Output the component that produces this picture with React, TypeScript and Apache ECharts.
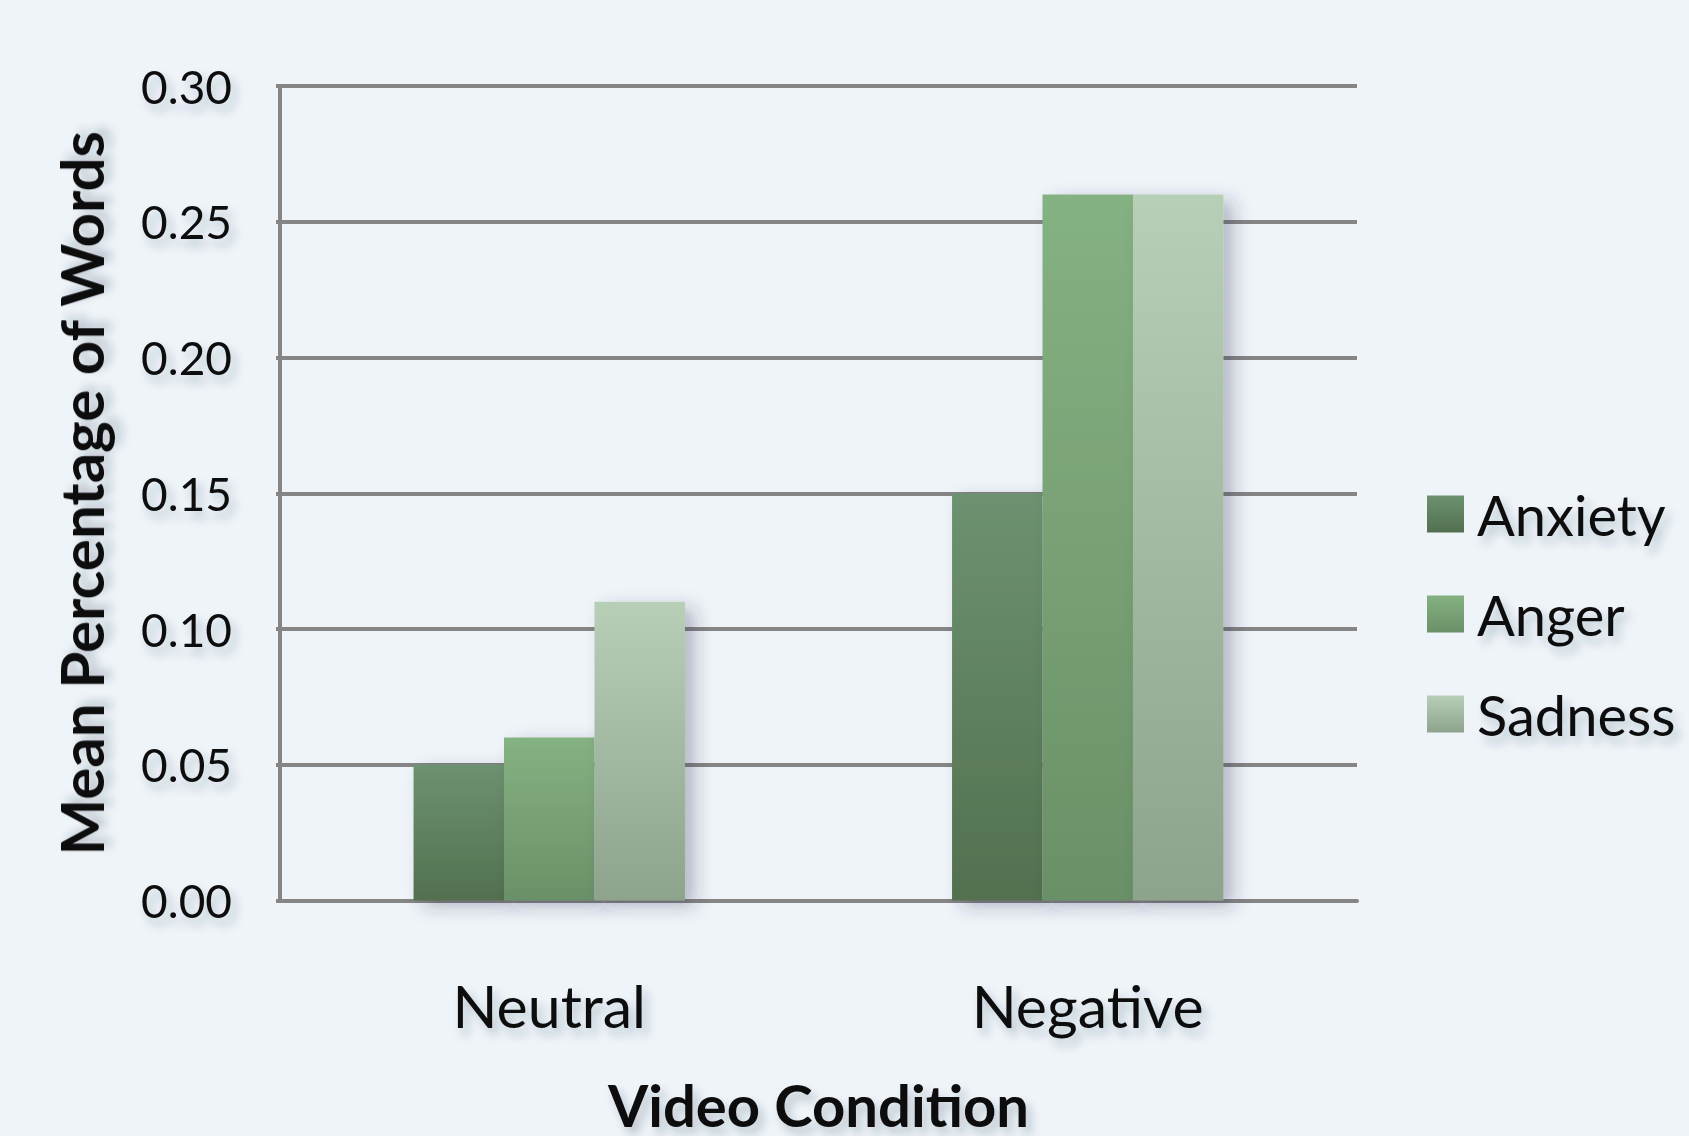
import React, { useEffect, useRef } from "react";
import * as echarts from "echarts";

const categories = ["Neutral", "Negative"];
const seriesNames = ["Anxiety", "Anger", "Sadness"];
const anxiety = [0.05, 0.15];
const anger = [0.06, 0.26];
const sadness = [0.11, 0.26];
const yTicks = [0, 0.05, 0.1, 0.15, 0.2, 0.25, 0.3];

const palette = [
  ["#6d9270", "#52704f"],
  ["#85b282", "#6a9067"],
  ["#b8cfb7", "#8da38c"],
];

const FONT = "Lato, 'Open Sans', sans-serif";
const textShadow = {
  textShadowColor: "rgba(40,50,70,0.25)",
  textShadowBlur: 10,
  textShadowOffsetX: 5,
  textShadowOffsetY: 7,
};

export default function App() {
  const ref = useRef<HTMLDivElement>(null);
  useEffect(() => {
    if (!ref.current) return;
    const chart = echarts.init(ref.current, null, { renderer: "svg" });
    const data = [anxiety, anger, sadness];
    chart.setOption({
      animation: false,
      backgroundColor: "#eff4f9",
      grid: {
        left: 280,
        right: 332,
        top: 86,
        bottom: 235.5,
        containLabel: false,
        outerBoundsMode: "none",
      },
      legend: {
        orient: "vertical",
        left: 1422,
        top: 479,
        itemWidth: 37,
        itemHeight: 37,
        itemGap: 40,
        icon: "rect",
        data: seriesNames,
        textStyle: {
          fontFamily: FONT,
          fontSize: 56,
          color: "#111",
          lineHeight: 60,
          padding: [0, 0, 0, 8],
          ...textShadow,
        },
      },
      xAxis: {
        type: "category",
        data: categories,
        name: "Video Condition",
        nameLocation: "middle",
        nameGap: 175,
        nameTextStyle: {
          fontFamily: FONT,
          fontWeight: "bold",
          fontSize: 58,
          color: "#111",
          ...textShadow,
        },
        axisLine: { show: true, lineStyle: { color: "#858585", width: 4 } },
        axisTick: { show: false },
        axisLabel: {
          fontFamily: FONT,
          fontSize: 59,
          color: "#111",
          margin: 75,
          ...textShadow,
        },
      },
      yAxis: {
        type: "value",
        min: 0,
        max: 0.3,
        interval: 0.05,
        name: "Mean Percentage of Words",
        nameLocation: "middle",
        nameGap: 169,
        nameRotate: 90,
        nameTextStyle: {
          fontFamily: FONT,
          fontWeight: "bold",
          fontSize: 60,
          color: "#111",
          ...textShadow,
        },
        axisLine: { show: true, lineStyle: { color: "#858585", width: 4 } },
        axisTick: { show: true, length: 4, lineStyle: { color: "#858585", width: 4 } },
        axisLabel: {
          fontFamily: FONT,
          fontSize: 46,
          color: "#111",
          margin: 48,
          formatter: (v: number) => {
            const t = yTicks.find((x) => Math.abs(x - v) < 1e-9);
            return (t !== undefined ? t : v).toFixed(2);
          },
          ...textShadow,
        },
        splitLine: {
          show: true,
          lineStyle: { color: "#858585", width: 4 },
        },
      },
      series: seriesNames.map((name, i) => ({
        name,
        type: "bar",
        data: data[i],
        barGap: "0%",
        barCategoryGap: "49.6%",
        itemStyle: {
          color: new echarts.graphic.LinearGradient(0, 0, 0, 1, [
            { offset: 0, color: palette[i][0] },
            { offset: 1, color: palette[i][1] },
          ]),
          shadowColor: "rgba(40,50,80,0.3)",
          shadowBlur: 18,
          shadowOffsetX: 10,
          shadowOffsetY: 6,
        },
      })),
    });
    return () => chart.dispose();
  }, []);
  return (
    <div
      ref={ref}
      style={{ position: "fixed", left: 0, top: 0, width: 1689, height: 1136 }}
    />
  );
}
